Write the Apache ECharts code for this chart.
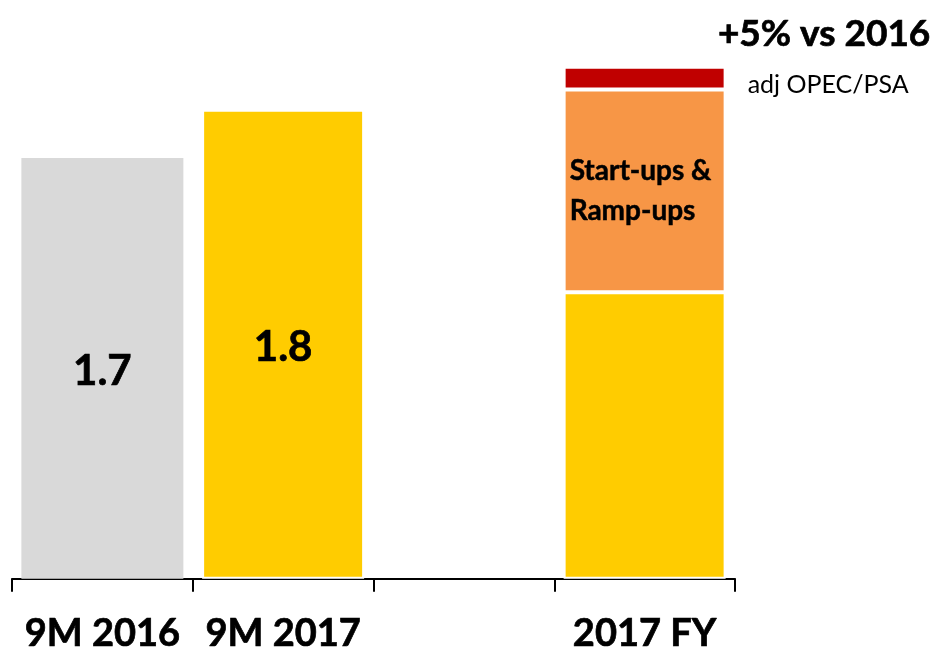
<!DOCTYPE html>
<html>
<head>
<meta charset="UTF-8">
<title>production</title>
<script src="https://cdn.jsdelivr.net/npm/echarts@6/dist/echarts.min.js"></script>
<style>
  html, body { margin: 0; padding: 0; background: #fff; }
  #main { width: 940px; height: 653px; }
</style>
</head>
<body>
<div id="main"></div>
<script>
// data (bar heights in chart units)
var categories = ['9M 2016', '9M 2017', '', '2017 FY'];
var baseValues = [1.66, 1.85, '-', 1.13];
var baseLabels = ['1.7', '1.8', '', ''];
var startupValues = ['-', '-', '-', 0.80];
var opecValues = ['-', '-', '-', 0.09];
var baseColors = ['#D9D9D9', '#FFCC00', '#FFCC00', '#FFCC00'];
var baseBorders = [0, 2, 0, 2];

var font = 'Lato, "Liberation Sans", Arial, sans-serif';
// Lato bold is a bit light next to the original, thicken it a little
var heavy = { textBorderColor: '#000', textBorderWidth: 0.7 };

var myChart = echarts.init(document.getElementById('main'));

var baseData = baseValues.map(function (v, i) {
  return {
    value: v,
    itemStyle: { color: baseColors[i], borderColor: '#fff', borderWidth: baseBorders[i] }
  };
});

var option = {
  animation: false,
  backgroundColor: '#fff',
  title: {
    text: '+5% vs 2016',
    right: 4,
    top: 11,
    textStyle: Object.assign({ fontFamily: font, fontSize: 37, fontWeight: 'bold', color: '#000' }, heavy)
  },
  grid: { left: 12, right: 205, top: 21, bottom: 73 },
  xAxis: {
    type: 'category',
    data: categories,
    boundaryGap: true,
    axisLine: { lineStyle: { color: '#000', width: 2 } },
    axisTick: { show: true, length: 13, lineStyle: { color: '#000', width: 2 } },
    axisLabel: Object.assign({
      margin: 36,
      interval: 0,
      color: '#000',
      fontFamily: font,
      fontSize: 38,
      fontWeight: 'bold'
    }, heavy)
  },
  yAxis: {
    type: 'value',
    min: 0,
    max: 2.2,
    show: false,
    splitLine: { show: false }
  },
  series: [
    {
      name: 'base',
      type: 'bar',
      stack: 'total',
      barWidth: 162,
      data: baseData,
      label: Object.assign({
        show: true,
        position: 'inside',
        offset: [0, 3],
        color: '#000',
        fontFamily: font,
        fontSize: 42,
        fontWeight: 'bold',
        formatter: function (p) { return baseLabels[p.dataIndex]; }
      }, heavy)
    },
    {
      name: 'Start-ups & Ramp-ups',
      type: 'bar',
      stack: 'total',
      barWidth: 162,
      data: startupValues,
      itemStyle: { color: '#F79646', borderColor: '#fff', borderWidth: 2 },
      label: Object.assign({
        show: true,
        position: [6, 62],
        align: 'left',
        verticalAlign: 'top',
        lineHeight: 40,
        color: '#000',
        fontFamily: font,
        fontSize: 28,
        fontWeight: 'bold',
        formatter: 'Start-ups &\nRamp-ups'
      }, { textBorderColor: '#000', textBorderWidth: 0.5 })
    },
    {
      name: 'adj OPEC/PSA',
      type: 'bar',
      stack: 'total',
      barWidth: 162,
      data: opecValues,
      itemStyle: { color: '#C00000', borderColor: '#fff', borderWidth: 2 },
      label: {
        show: true,
        position: 'right',
        distance: 22,
        offset: [0, 7],
        color: '#000',
        fontFamily: font,
        fontSize: 25,
        formatter: '{a}'
      }
    }
  ]
};
myChart.setOption(option);
</script>
</body>
</html>
